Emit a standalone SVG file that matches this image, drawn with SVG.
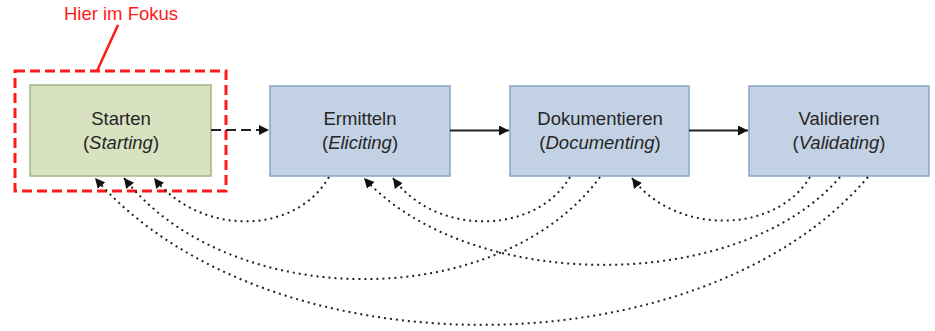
<svg xmlns="http://www.w3.org/2000/svg" width="935" height="331" viewBox="0 0 935 331">
<style>
text{font-family:"Liberation Sans",Arial,sans-serif;font-size:18.5px;fill:#262626;text-anchor:middle}
.g{fill:#d8e2c0;stroke:#a3b586;stroke-width:1.5}
.b{fill:#c3d1e4;stroke:#8aa3c9;stroke-width:1.5}
.flow{fill:none;stroke:#222;stroke-width:2}
.dot{fill:none;stroke:#222;stroke-width:2;stroke-dasharray:2 4}
</style>
<defs>
<marker id="ah" viewBox="0 0 10 10" refX="10" refY="5" markerWidth="5" markerHeight="5" markerUnits="strokeWidth" orient="auto">
<path d="M0,0 L10,5 L0,10 z" fill="#111"/>
</marker>
</defs>
<rect width="935" height="331" fill="#fff"/>
<g id="focus">
<rect x="15" y="71" width="211" height="120" fill="none" stroke="#ff1a1a" stroke-width="3" stroke-dasharray="10 5"/>
<line x1="118" y1="25" x2="97" y2="71" stroke="#ff1a1a" stroke-width="2.5"/>
<text x="121" y="20" style="fill:#ff1a1a">Hier im Fokus</text>
</g>
<g id="starten">
<rect class="g" x="30" y="85" width="181" height="91"/>
<text x="121" y="125">Starten</text>
<text x="121" y="149">(<tspan font-style="italic">Starting</tspan>)</text>
</g>
<g id="ermitteln">
<rect class="b" x="270" y="86" width="180" height="90"/>
<text x="360" y="125">Ermitteln</text>
<text x="360" y="149">(<tspan font-style="italic">Eliciting</tspan>)</text>
</g>
<g id="dokumentieren">
<rect class="b" x="510" y="86" width="179" height="90"/>
<text x="600" y="125">Dokumentieren</text>
<text x="600" y="149">(<tspan font-style="italic">Documenting</tspan>)</text>
</g>
<g id="validieren">
<rect class="b" x="749" y="86" width="180" height="90"/>
<text x="839" y="125">Validieren</text>
<text x="839" y="149">(<tspan font-style="italic">Validating</tspan>)</text>
</g>
<g id="connectors">
<line class="flow" x1="211" y1="130" x2="269" y2="130" stroke-dasharray="10 5" marker-end="url(#ah)"/>
<line class="flow" x1="450" y1="130.5" x2="509" y2="130.5" marker-end="url(#ah)"/>
<line class="flow" x1="689" y1="130.5" x2="748" y2="130.5" marker-end="url(#ah)"/>
<path class="dot" d="M329,177 C295,236 200,236 154,178" marker-end="url(#ah)"/>
<path class="dot" d="M570,177 C535,236 435,236 393,178" marker-end="url(#ah)"/>
<path class="dot" d="M810,177 C775,235 675,235 632,178" marker-end="url(#ah)"/>
<path class="dot" d="M600,177 C500,313 230,313 124,178" marker-end="url(#ah)"/>
<path class="dot" d="M840,177 C740,294 470,294 364,178" marker-end="url(#ah)"/>
<path class="dot" d="M868,177 C700,374 265,374 95,178" marker-end="url(#ah)"/>
</g>
</svg>
